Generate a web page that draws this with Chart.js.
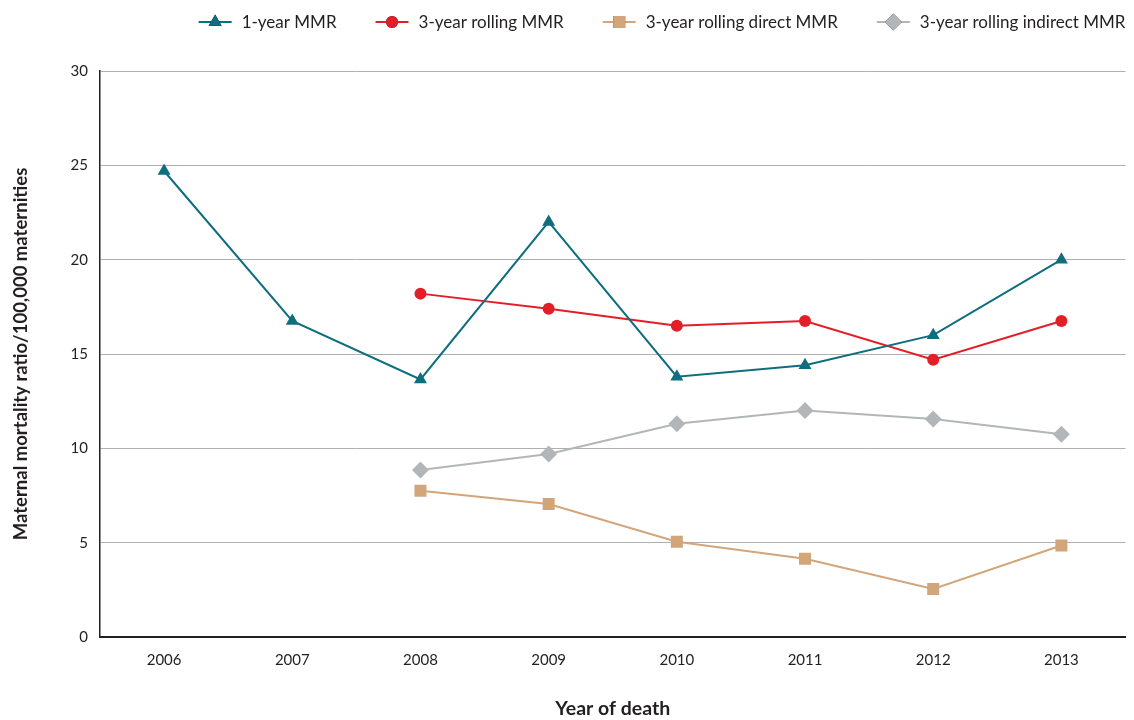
<!DOCTYPE html>
<html>
<head>
<meta charset="utf-8">
<script src="https://cdn.jsdelivr.net/npm/chart.js@4.4.0/dist/chart.umd.min.js"></script>
<style>
  html, body { margin: 0; padding: 0; background: #fff; }
  #wrap { width: 1134px; height: 720px; }
</style>
</head>
<body>
<div id="wrap"><canvas id="mmrChart" width="1134" height="720"></canvas></div>
<script>
var years = ['2006', '2007', '2008', '2009', '2010', '2011', '2012', '2013'];
var oneYear = [24.7, 16.75, 13.65, 22.0, 13.8, 14.4, 16.0, 20.0];
var rolling = [null, null, 18.2, 17.4, 16.5, 16.75, 14.7, 16.75];
var rollingDirect = [null, null, 7.75, 7.05, 5.05, 4.15, 2.55, 4.85];
var rollingIndirect = [null, null, 8.85, 9.7, 11.3, 12.0, 11.55, 10.75];

var FONT = 'Lato, "Open Sans", sans-serif';
var INK = '#231f20';

var seriesDefs = [
  { label: '1-year MMR', data: oneYear, color: '#0e6e7f', style: 'triangle', r: 7.5 },
  { label: '3-year rolling MMR', data: rolling, color: '#e21f28', style: 'circle', r: 6 },
  { label: '3-year rolling direct MMR', data: rollingDirect, color: '#d3a57b', style: 'rect', r: 8.5 },
  { label: '3-year rolling indirect MMR', data: rollingIndirect, color: '#b3b6b9', style: 'rectRot', r: 8.5 }
];

var datasets = seriesDefs.map(function (s, i) {
  return {
    label: s.label,
    data: s.data,
    borderColor: s.color,
    backgroundColor: s.color,
    borderWidth: 2,
    pointStyle: s.style,
    pointRadius: s.r,
    pointHoverRadius: s.r,
    pointBorderWidth: 0,
    tension: 0,
    spanGaps: false,
    order: i
  };
});

// legend along the top: line + marker, then the label, right aligned to the plot
var lineLegend = {
  id: 'lineLegend',
  afterDraw: function (chart) {
    var c = chart.ctx;
    var y = 22, swW = 33, gapText = 10, gapItem = 39;
    c.save();
    c.font = '17px ' + FONT;
    c.textBaseline = 'middle';
    var widths = chart.data.datasets.map(function (d) { return c.measureText(d.label).width; });
    var total = 0;
    widths.forEach(function (w, i) { total += swW + gapText + w + (i ? gapItem : 0); });
    var x = chart.chartArea.right - total;
    chart.data.datasets.forEach(function (d, i) {
      c.strokeStyle = d.borderColor;
      c.lineWidth = 2;
      c.beginPath(); c.moveTo(x, y); c.lineTo(x + swW, y); c.stroke();
      Chart.helpers.drawPoint(c, {
        pointStyle: d.pointStyle, radius: d.pointRadius, rotation: 0, borderWidth: 0
      }, x + swW / 2, y);
      c.fillStyle = d.backgroundColor;
      c.fill();
      c.fillStyle = INK;
      c.fillText(d.label, x + swW + gapText, y + 1);
      x += swW + gapText + widths[i] + gapItem;
    });
    c.restore();
  }
};

var ctx = document.getElementById('mmrChart').getContext('2d');
var chart = new Chart(ctx, {
  type: 'line',
  data: { labels: years, datasets: datasets },
  plugins: [lineLegend],
  options: {
    responsive: false,
    animation: false,
    layout: { padding: { top: 71, right: 7, left: 0, bottom: 0 } },
    plugins: {
      tooltip: { enabled: false },
      legend: { display: false }
    },
    scales: {
      x: {
        offset: true,
        grid: { display: false, drawTicks: false },
        border: { display: true, color: INK, width: 2 },
        ticks: { color: INK, padding: 14, font: { family: FONT, size: 15 } },
        title: {
          display: true,
          text: 'Year of death',
          color: INK,
          font: { family: FONT, size: 19.5, weight: 'bold' },
          padding: { top: 30, bottom: 0 }
        },
        afterFit: function (scale) { scale.height = 83; }
      },
      y: {
        min: 0,
        max: 30,
        ticks: { stepSize: 5, color: INK, padding: 12, font: { family: FONT, size: 15 } },
        grid: { color: '#b0b0b0', lineWidth: 1, drawTicks: false },
        border: { display: true, color: INK, width: 1.5 },
        title: {
          display: true,
          text: 'Maternal mortality ratio/100,000 maternities',
          color: INK,
          font: { family: FONT, size: 18.5, weight: 'bold' },
          padding: { top: 10, bottom: 30 }
        },
        afterFit: function (scale) { scale.width = 100; }
      }
    }
  }
});
</script>
</body>
</html>
